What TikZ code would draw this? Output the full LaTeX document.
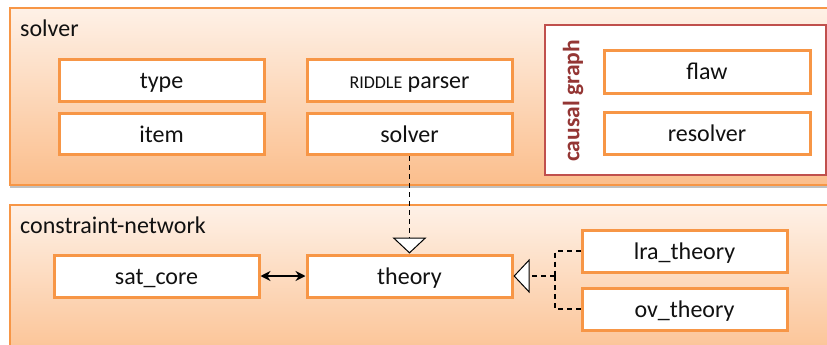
\documentclass[tikz,border=0pt]{standalone}
\usepackage{fontspec}
\setmainfont{Carlito}
\usetikzlibrary{arrows.meta,shadows}
\definecolor{accent}{HTML}{F79646}
\definecolor{panelTop}{HTML}{FEF1E7}
\definecolor{panelBottom}{HTML}{FBBE8C}
\definecolor{cgRed}{HTML}{C0504D}
\definecolor{cgText}{HTML}{943634}
\definecolor{ink}{HTML}{111111}
\tikzset{
  panel/.style={draw=accent, line width=1.2pt, top color=panelTop, bottom color=panelBottom,
    drop shadow={shadow xshift=0pt, shadow yshift=-3pt, opacity=0.4, fill=black!60}},
  panellabel/.style={anchor=base west, font=\fontsize{24}{26}\selectfont, text=ink, inner sep=0pt},
  classbox/.style={draw=accent, line width=3pt, fill=white, minimum width=205pt, minimum height=41pt,
    inner sep=0pt, text height=20pt, text depth=4pt, font=\fontsize{24}{26}\selectfont, text=ink},
  groupbox/.style={draw=cgRed, line width=2.2pt, fill=white},
  realize/.style={line width=1.1pt, dash pattern=on 5pt off 4pt,
    -{Triangle[width=34pt,length=16pt,fill=white,line width=1pt]}},
  dashlink/.style={line width=1.1pt, dash pattern=on 5pt off 4pt},
  assoc/.style={line width=2.2pt, {Stealth[length=10pt,width=10pt]}-{Stealth[length=10pt,width=10pt]}}
}
\begin{document}
\begin{tikzpicture}[x=1pt,y=-1pt]
  \useasboundingbox (0,0) rectangle (827,345);
  \fill[white] (0,0) rectangle (827,345);

  % packages
  \path[panel] (10,8) rectangle (850,185);
  \path[panel] (10,205) rectangle (850,370);
  \node[panellabel] (solverlbl) at (20,37) {solver};
  \node[panellabel] (cnlbl) at (20,233) {constraint-network};

  % solver package contents
  \node[classbox] (type) at (161.5,80.5) {type};
  \node[classbox] (item) at (161.5,134) {item};
  \node[classbox] (parser) at (409.5,80.5) {{\fontsize{18}{20}\selectfont RIDDLE} parser};
  \node[classbox] (solver) at (409.5,134) {solver};

  % causal graph group
  \draw[groupbox] (545,25) rectangle (826,175);
  \node[rotate=90, font=\bfseries\fontsize{23.5}{25}\selectfont, text=cgText] (cg) at (573,101) {causal graph};
  \node[classbox, minimum width=206pt, minimum height=42pt] (flaw) at (707,72) {flaw};
  \node[classbox, minimum width=206pt, minimum height=42pt] (resolver) at (707,133) {resolver};

  % constraint-network package contents
  \node[classbox, minimum height=42pt] (sat) at (156.5,276) {sat\_core};
  \node[classbox, minimum height=42pt] (theory) at (409.5,276) {theory};
  \node[classbox, minimum height=42pt] (lra) at (684.5,251) {lra\_theory};
  \node[classbox, minimum height=42pt] (ov) at (684.5,309) {ov\_theory};

  % connectors
  \draw[assoc] (sat.east) -- (theory.west);
  \draw[realize] (solver.south) -- (theory.north);
  \coordinate (join) at (555,276);
  \draw[dashlink] (lra.west) -| (join);
  \draw[dashlink] (ov.west) -| (join);
  \draw[realize] (join) -- (theory.east);
\end{tikzpicture}
\end{document}
